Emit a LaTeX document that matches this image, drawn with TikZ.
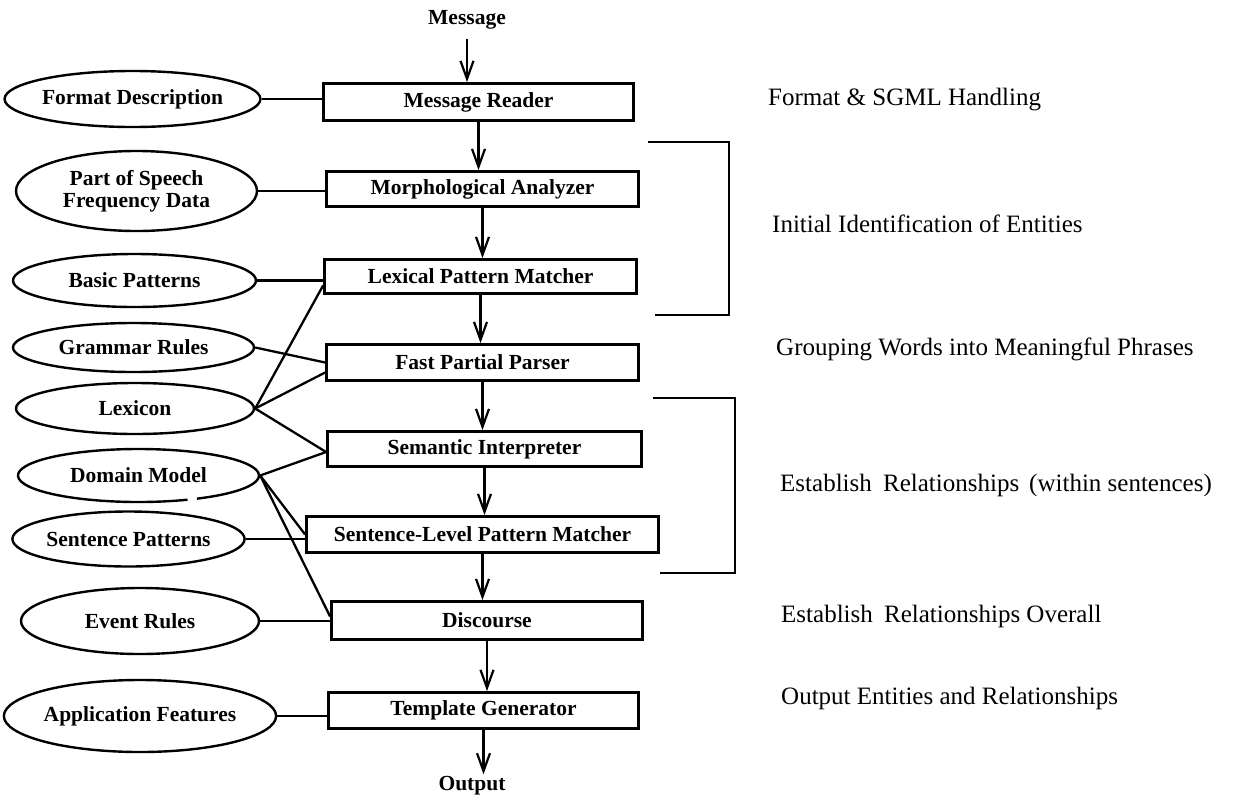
\documentclass[tikz,border=0pt]{standalone}
\usepackage{fontspec}
\setmainfont{Liberation Serif}
\usetikzlibrary{shapes.geometric,arrows.meta,calc}
\begin{document}
\begin{tikzpicture}[x=1pt,y=-1pt,
  box/.style={draw, line width=2.8pt, rectangle, inner sep=0pt, font=\fontsize{21.5}{22}\selectfont\bfseries},
  src/.style={draw, line width=2.4pt, ellipse, inner sep=0pt, align=center, font=\fontsize{21.5}{22}\selectfont\bfseries},
  lbl/.style={inner sep=0pt, font=\fontsize{21.5}{22}\selectfont\bfseries},
  note/.style={anchor=base west, inner sep=0pt, font=\fontsize{25}{28}\selectfont},
  link/.style={line width=2.3pt},
  flow/.style={line width=2.2pt, -{Straight Barb[length=18pt,width=13pt,line width=2.2pt]}},
  brk/.style={line width=2.2pt}
]
\useasboundingbox (0,0) rectangle (1238,798);

% pipeline boxes
\node[box, minimum width=310pt, minimum height=37pt] (mr)   at (478.5,102)   {Message Reader};
\node[box, minimum width=312pt, minimum height=35pt] (ma)   at (482.5,189)   {Morphological Analyzer};
\node[box, minimum width=312pt, minimum height=34pt] (lpm)  at (480.5,276.5) {Lexical Pattern Matcher};
\node[box, minimum width=312pt, minimum height=36pt] (fpp)  at (482.5,362.5) {Fast Partial Parser};
\node[box, minimum width=314pt, minimum height=35pt] (si)   at (484.5,449)   {Semantic Interpreter};
\node[box, minimum width=352pt, minimum height=36pt] (slpm) at (482.5,534.5) {Sentence-Level Pattern Matcher};
\node[box, minimum width=311pt, minimum height=38pt] (dis)  at (487,620.5)   {Discourse};
\node[box, minimum width=310pt, minimum height=36pt] (tg)   at (483.5,710.5) {Template Generator};

\node[lbl] (msg) at (467,20)  {Message};
\node[lbl] (out) at (472,786) {Output};

% knowledge sources
\node[src, minimum width=243pt, minimum height=56pt] (fd)  at (132.5,99)  {Format Description};
\node[src, minimum width=241pt, minimum height=80pt] (pos) at (136.5,191) {Part of Speech\\Frequency Data};
\node[src, minimum width=243pt, minimum height=53pt] (bp)  at (134.5,280.5) {Basic Patterns};
\node[src, minimum width=241pt, minimum height=49pt] (gr)  at (133.5,347.5) {Grammar Rules};
\node[src, minimum width=238pt, minimum height=51pt] (lex) at (135,408.5) {Lexicon};
\node[src, draw=none, minimum width=241pt, minimum height=53pt] (dm) at (138.5,475.5) {Domain Model};
\node[src, minimum width=221pt, minimum height=55pt] (sp)  at (128.5,539) {Sentence Patterns};
\node[src, minimum width=238pt, minimum height=66pt] (er)  at (140,621) {Event Rules};
\node[src, minimum width=245pt, minimum height=72pt] (af)  at (140,716) {Application Features};
\draw[line width=2.4pt] ($(dm.center)+(66:120.5 and 26.5)$) arc[start angle=66, end angle=421, x radius=120.5, y radius=26.5];

% flow arrows
\draw[flow, shorten <=9pt] (msg.south) -- (msg.south |- mr.north);
\draw[flow] (mr.south)   -- (mr.south |- ma.north);
\draw[flow] (ma.south)   -- (ma.south |- lpm.north);
\draw[flow] (lpm.south)  -- (lpm.south |- fpp.north);
\draw[flow] (fpp.south)  -- (fpp.south |- si.north);
\draw[flow] (si.south)   -- (si.south |- slpm.north);
\draw[flow] (slpm.south) -- (slpm.south |- dis.north);
\draw[flow] (dis.south)  -- (dis.south |- tg.north);
\draw[flow, shorten >=2pt] (tg.south) -- (tg.south |- out.north);

% links from knowledge sources
\draw[link] (fd.east)  -- (fd.east -| mr.west);
\draw[link] (pos.east) -- (pos.east -| ma.west);
\draw[link] (bp.east)  -- (bp.east -| lpm.west);
\draw[link] (gr.east)  -- (fpp.west);
\draw[link] (lex.east) -- ($(lpm.west)+(0,9)$);
\draw[link] (lex.east) -- ($(fpp.west)+(0,10)$);
\draw[link] (lex.east) -- ($(si.west)+(0,3)$);
\draw[link] (dm.east)  -- ($(si.west)+(0,3)$);
\draw[link] (dm.east)  -- (slpm.west);
\draw[link] (dm.east)  -- ($(dis.west)+(0,-4)$);
\draw[link] (sp.east)  -- (sp.east -| slpm.west);
\draw[link] (er.east)  -- (er.east -| dis.west);
\draw[link] (af.east)  -- (af.east -| tg.west);

% brackets
\draw[brk] (648,142) -- (729,142) -- (729,315) -- (655,315);
\draw[brk] (653,398) -- (735,398) -- (735,573) -- (660,573);

% stage descriptions
\node[note] (n1) at (768,105) {Format \& SGML Handling};
\node[note] (n2) at (772,232) {Initial Identification of Entities};
\node[note] (n3) at (776,355) {Grouping Words into Meaningful Phrases};
\node[note] (n4) at (780,491) {Establish\hspace{0.45em}Relationships\hspace{0.4em}(within sentences)};
\node[note] (n5) at (781,622) {Establish\hspace{0.45em}Relationships Overall};
\node[note] (n6) at (781,704) {Output Entities and Relationships};
\end{tikzpicture}
\end{document}
